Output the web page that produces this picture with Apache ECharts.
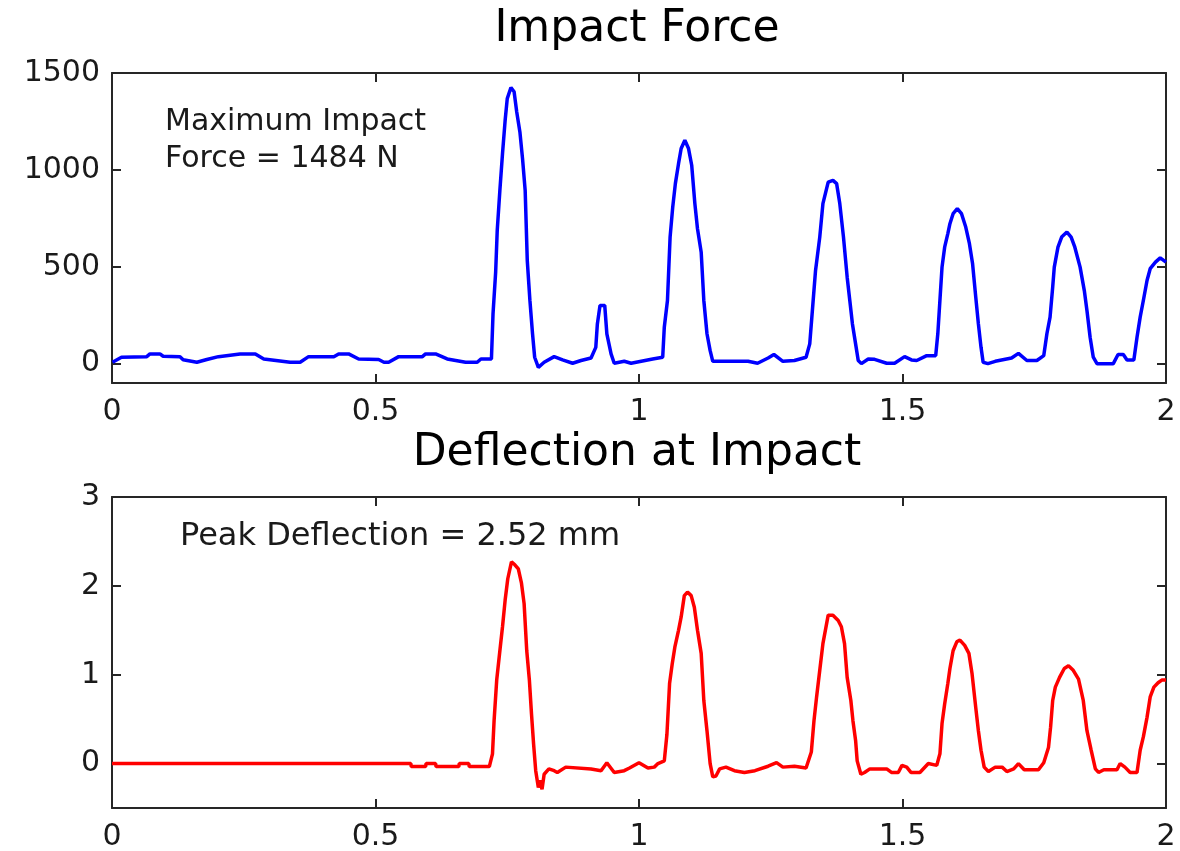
<!DOCTYPE html>
<html>
<head>
<meta charset="utf-8">
<title>Impact Force / Deflection at Impact</title>
<script src="https://cdn.jsdelivr.net/npm/echarts@6/dist/echarts.min.js"></script>
<style>
  html, body { margin: 0; padding: 0; background: #fff; }
  #chart { width: 1180px; height: 851px; }
</style>
</head>
<body>
<div id="chart"></div>
<script>
// time axis (s) and tick labels
const timeTicks = [0, 0.5, 1, 1.5, 2]
const forceTicks = [0, 500, 1000, 1500]
const deflTicks = [0, 1, 2, 3]

// impact force (t in s, N)
const forceT = [0.001, 0.018, 0.066, 0.072, 0.091, 0.097, 0.129, 0.135, 0.161, 0.18, 0.202, 0.243, 0.272, 0.288,
  0.338, 0.357, 0.373, 0.421, 0.43, 0.449, 0.468, 0.506, 0.516, 0.525, 0.544, 0.589, 0.595, 0.614, 0.636, 0.671,
  0.693, 0.7, 0.72, 0.723, 0.728, 0.731, 0.736, 0.741, 0.746, 0.75, 0.757, 0.763, 0.768, 0.774, 0.779, 0.784,
  0.788, 0.793, 0.798, 0.802, 0.809, 0.82, 0.839, 0.855, 0.874, 0.89, 0.909, 0.918, 0.921, 0.926, 0.935, 0.939,
  0.947, 0.953, 0.972, 0.985, 1.026, 1.045, 1.048, 1.054, 1.059, 1.064, 1.069, 1.075, 1.08, 1.087, 1.094, 1.1,
  1.106, 1.111, 1.118, 1.123, 1.129, 1.135, 1.14, 1.207, 1.225, 1.245, 1.256, 1.273, 1.295, 1.317, 1.324, 1.33,
  1.335, 1.343, 1.349, 1.359, 1.368, 1.375, 1.381, 1.388, 1.395, 1.4, 1.405, 1.411, 1.416, 1.422, 1.435, 1.447,
  1.47, 1.485, 1.504, 1.517, 1.527, 1.546, 1.563, 1.567, 1.571, 1.575, 1.58, 1.586, 1.59, 1.596, 1.604, 1.612,
  1.62, 1.627, 1.633, 1.639, 1.644, 1.649, 1.653, 1.662, 1.676, 1.707, 1.72, 1.736, 1.755, 1.768, 1.774, 1.78,
  1.785, 1.788, 1.795, 1.802, 1.812, 1.82, 1.827, 1.837, 1.845, 1.85, 1.856, 1.862, 1.869, 1.9, 1.909, 1.919,
  1.926, 1.939, 1.945, 1.951, 1.957, 1.964, 1.97, 1.98, 1.989, 2.0]
const forceN = [7, 33, 36, 50, 50, 38, 36, 20, 7, 21, 36, 50, 50, 24,
  7, 7, 36, 36, 50, 50, 24, 21, 7, 7, 36, 36, 50, 50, 24, 7,
  7, 24, 24, 257, 472, 688, 894, 1084, 1256, 1368, 1425, 1403, 1299, 1196, 1058, 894,
  532, 326, 154, 33, -19, 7, 36, 19, 2, 16, 29, 84, 205, 300, 300, 154,
  50, 2, 12, 2, 24, 33, 188, 326, 653, 808, 929, 1032, 1110, 1153, 1110, 1024,
  826, 696, 575, 326, 154, 67, 12, 12, 2, 29, 47, 12, 16, 33, 102, 309,
  481, 653, 826, 937, 946, 929, 826, 653, 446, 326, 205, 102, 16, 0, 24, 22,
  2, 2, 36, 19, 16, 41, 41, 154, 326, 498, 601, 671, 722, 774, 800, 774,
  705, 619, 515, 343, 205, 84, 7, 0, 12, 29, 53, 16, 16, 41, 154, 240,
  395, 498, 601, 653, 679, 653, 601, 498, 377, 274, 136, 33, 0, 0, 47, 47,
  19, 19, 136, 240, 326, 429, 490, 524, 546, 524]

// deflection (t in s, mm)
const deflT = [0, 0.567, 0.568, 0.595, 0.596, 0.614, 0.615, 0.658, 0.659, 0.677, 0.678, 0.716, 0.722, 0.725,
  0.73, 0.736, 0.741, 0.746, 0.751, 0.758, 0.764, 0.771, 0.777, 0.782, 0.787, 0.792, 0.796, 0.8, 0.804, 0.809,
  0.812, 0.816, 0.82, 0.829, 0.839, 0.845, 0.861, 0.909, 0.928, 0.939, 0.953, 0.972, 0.982, 1.0, 1.017, 1.029,
  1.036, 1.048, 1.053, 1.058, 1.063, 1.068, 1.075, 1.08, 1.086, 1.092, 1.099, 1.105, 1.111, 1.118, 1.123, 1.129,
  1.135, 1.14, 1.146, 1.153, 1.165, 1.181, 1.2, 1.22, 1.245, 1.261, 1.273, 1.295, 1.317, 1.327, 1.332, 1.337,
  1.343, 1.349, 1.359, 1.368, 1.378, 1.384, 1.39, 1.395, 1.402, 1.406, 1.411, 1.414, 1.421, 1.428, 1.438, 1.47,
  1.479, 1.492, 1.499, 1.508, 1.516, 1.533, 1.549, 1.565, 1.571, 1.575, 1.58, 1.586, 1.59, 1.596, 1.603, 1.609,
  1.618, 1.626, 1.632, 1.639, 1.644, 1.649, 1.655, 1.663, 1.676, 1.689, 1.698, 1.711, 1.72, 1.731, 1.758, 1.768,
  1.777, 1.781, 1.785, 1.79, 1.798, 1.807, 1.815, 1.824, 1.834, 1.843, 1.85, 1.858, 1.866, 1.872, 1.882, 1.907,
  1.913, 1.922, 1.932, 1.945, 1.951, 1.957, 1.964, 1.97, 1.977, 1.985, 1.992, 2.0]
const deflMm = [0, 0, -0.034, -0.034, 0, 0, -0.034, -0.034, 0, 0, -0.034, -0.034, 0.11, 0.48,
  0.94, 1.27, 1.54, 1.84, 2.08, 2.27, 2.24, 2.19, 2.03, 1.8, 1.27, 0.94, 0.56, 0.22, -0.08, -0.27,
  -0.19, -0.29, -0.12, -0.06, -0.08, -0.1, -0.04, -0.06, -0.08, 0.01, -0.1, -0.08, -0.05, 0.01, -0.05, -0.04,
  0, 0.03, 0.33, 0.9, 1.12, 1.31, 1.5, 1.65, 1.89, 1.93, 1.89, 1.76, 1.5, 1.24, 0.71, 0.37,
  0, -0.15, -0.14, -0.06, -0.04, -0.08, -0.1, -0.08, -0.03, 0.01, -0.04, -0.03, -0.05, 0.13, 0.48, 0.75,
  1.05, 1.35, 1.67, 1.67, 1.61, 1.54, 1.35, 0.97, 0.71, 0.48, 0.26, 0.03, -0.12, -0.1, -0.06, -0.06,
  -0.1, -0.1, -0.02, -0.04, -0.1, -0.1, 0, -0.02, 0.11, 0.45, 0.67, 0.9, 1.07, 1.27, 1.37, 1.39,
  1.33, 1.24, 1.01, 0.63, 0.37, 0.15, -0.04, -0.09, -0.04, -0.04, -0.09, -0.06, 0, -0.07, -0.07, 0.01,
  0.18, 0.41, 0.71, 0.86, 0.97, 1.07, 1.1, 1.05, 0.95, 0.71, 0.37, 0.15, -0.06, -0.1, -0.07, -0.07,
  0, -0.04, -0.1, -0.1, 0.15, 0.3, 0.52, 0.75, 0.86, 0.91, 0.94, 0.94]

const FONT = 'DejaVu Sans'
const axisColor = '#262626'

// one plot box = 4 axes (labels only on bottom / left), ticks pointing inward
function xAxes(gridIndex) {
  const base = {
    type: 'value', gridIndex: gridIndex, min: 0, max: 2, interval: 0.5,
    axisLine: { show: true, onZero: false, lineStyle: { color: axisColor, width: 2 } },
    axisTick: { show: true, inside: true, length: 9, lineStyle: { color: axisColor, width: 2 } },
    splitLine: { show: false }
  }
  return [
    Object.assign({}, base, {
      position: 'bottom',
      axisLabel: { show: true, margin: 14, color: '#1a1a1a', fontSize: 30, fontFamily: FONT,
        customValues: timeTicks, formatter: v => String(v) }
    }),
    Object.assign({}, base, { position: 'top', axisLabel: { show: false } })
  ]
}

function yAxes(gridIndex, min, max, ticks) {
  const base = {
    type: 'value', gridIndex: gridIndex, min: min, max: max,
    axisLine: { show: true, onZero: false, lineStyle: { color: axisColor, width: 2 } },
    axisTick: { show: true, inside: true, length: 9, customValues: ticks, lineStyle: { color: axisColor, width: 2 } },
    splitLine: { show: false }
  }
  return [
    Object.assign({}, base, {
      position: 'left',
      axisLabel: { show: true, margin: 12, color: '#1a1a1a', fontSize: 30, fontFamily: FONT,
        customValues: ticks, formatter: v => String(v) }
    }),
    Object.assign({}, base, { position: 'right', axisLabel: { show: false } })
  ]
}

const forceData = forceT.map((t, i) => [t, forceN[i]])
const deflData = deflT.map((t, i) => [t, deflMm[i]])

const chart = echarts.init(document.getElementById('chart'), null, { renderer: 'canvas' })

const option = {
  animation: false,
  backgroundColor: '#ffffff',
  grid: [
    { left: 112, right: 14, top: 73, height: 310, containLabel: false, outerBoundsMode: 'none' },
    { left: 112, right: 14, top: 497, height: 311, containLabel: false, outerBoundsMode: 'none' }
  ],
  xAxis: [].concat(xAxes(0), xAxes(1)),
  yAxis: [].concat(yAxes(0, -100, 1500, forceTicks), yAxes(1, -0.5, 3, deflTicks)),
  series: [
    {
      name: 'Impact Force', type: 'line', xAxisIndex: 0, yAxisIndex: 0,
      data: forceData, showSymbol: false, symbol: 'none',
      lineStyle: { color: '#0000ff', width: 3.5 }
    },
    {
      name: 'Deflection', type: 'line', xAxisIndex: 2, yAxisIndex: 2,
      data: deflData, showSymbol: false, symbol: 'none',
      lineStyle: { color: '#ff0000', width: 3.5 }
    }
  ],
  graphic: [
    { type: 'text', x: 637, y: 30, style: { text: 'Impact Force', fill: '#000', font: '44px "DejaVu Sans"', textAlign: 'center', textVerticalAlign: 'middle' } },
    { type: 'text', x: 637, y: 454, style: { text: 'Deflection at Impact', fill: '#000', font: '44px "DejaVu Sans"', textAlign: 'center', textVerticalAlign: 'middle' } },
    { type: 'text', x: 165, y: 122, style: { text: 'Maximum Impact', fill: '#1a1a1a', font: '30px "DejaVu Sans"', textAlign: 'left', textVerticalAlign: 'middle' } },
    { type: 'text', x: 165, y: 159, style: { text: 'Force = 1484 N', fill: '#1a1a1a', font: '30px "DejaVu Sans"', textAlign: 'left', textVerticalAlign: 'middle' } },
    { type: 'text', x: 180, y: 537, style: { text: 'Peak Deflection = 2.52 mm', fill: '#1a1a1a', font: '32px "DejaVu Sans"', textAlign: 'left', textVerticalAlign: 'middle' } }
  ]
}

chart.setOption(option)
</script>
</body>
</html>
